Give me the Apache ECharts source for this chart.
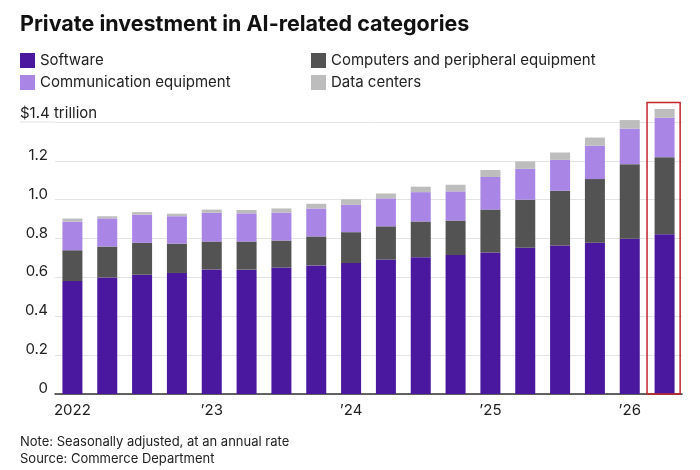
<!DOCTYPE html>
<html lang="en">
<head>
<meta charset="utf-8">
<script src="https://cdn.jsdelivr.net/npm/echarts@6/dist/echarts.min.js"></script>
<style>
    html, body { margin: 0; padding: 0; background: #fff; }
    #chart { width: 700px; height: 470px; }
</style>
</head>
<body>
<div id="chart"></div>
<script>
    // quarters, 2022 Q1 - 2026 Q2
    var quarters = ['2022 Q1', '2022 Q2', '2022 Q3', '2022 Q4',
        '2023 Q1', '2023 Q2', '2023 Q3', '2023 Q4',
        '2024 Q1', '2024 Q2', '2024 Q3', '2024 Q4',
        '2025 Q1', '2025 Q2', '2025 Q3', '2025 Q4',
        '2026 Q1', '2026 Q2'];

    // $ trillion, annual rate
    var software = [0.581, 0.600, 0.614, 0.623, 0.641, 0.640, 0.651, 0.662, 0.674,
        0.692, 0.704, 0.715, 0.728, 0.753, 0.764, 0.778, 0.799, 0.822];
    var computers = [0.159, 0.159, 0.164, 0.151, 0.144, 0.145, 0.139, 0.149, 0.159,
        0.171, 0.184, 0.178, 0.221, 0.247, 0.282, 0.328, 0.384, 0.397];
    var communication = [0.147, 0.145, 0.145, 0.141, 0.148, 0.145, 0.144, 0.144, 0.141,
        0.144, 0.151, 0.150, 0.168, 0.159, 0.159, 0.172, 0.183, 0.203];
    var dataCenters = [0.016, 0.011, 0.013, 0.013, 0.016, 0.017, 0.021, 0.024, 0.028,
        0.025, 0.028, 0.034, 0.036, 0.038, 0.038, 0.042, 0.044, 0.045];

    // x tick labels (first quarter of each year)
    var tickQuarters = ['2022 Q1', '2023 Q1', '2024 Q1', '2025 Q1', '2026 Q1'];
    var tickLabels = ['2022', '\u201923', '\u201924', '\u201925', '\u201926'];

    // y ticks
    var yTicks = [0, 0.2, 0.4, 0.6, 0.8, 1.0, 1.2, 1.4];
    var yTopLabel = '$1.4 trillion';

    // highlighted (latest) quarter and height of its box
    var highlight = [['2026 Q2', 1.5]];

    var FONT = 'Inter';
    var chart = echarts.init(document.getElementById('chart'));

    function isTick(i) {
        return tickQuarters.indexOf(quarters[i]) >= 0;
    }

    function barSeries(name, data, color) {
        return {
            name: name,
            type: 'bar',
            stack: 'total',
            barWidth: 20,
            clip: false,
            itemStyle: { color: color },
            emphasis: { disabled: true },
            data: data
        };
    }

    var option = {
        animation: false,
        textStyle: { fontFamily: FONT },
        title: [
            {
                text: 'Private investment in AI-related categories',
                left: 20, top: 14, padding: 0,
                textStyle: { fontFamily: FONT, fontSize: 21.5, fontWeight: 'bold', color: '#111' }
            },
            {
                text: yTopLabel,
                left: 20, top: 106, padding: 0,
                textStyle: { fontFamily: FONT, fontSize: 15, fontWeight: 'normal', color: '#222' }
            },
            {
                text: 'Note: Seasonally adjusted, at an annual rate\nSource: Commerce Department',
                left: 20, top: 433, padding: 0,
                textStyle: { fontFamily: FONT, fontSize: 13, lineHeight: 17.5, fontWeight: 'normal', color: '#222' }
            }
        ],
        legend: [
            {
                left: 20, top: 53, padding: 0,
                orient: 'vertical', icon: 'rect', selectedMode: false,
                itemWidth: 15, itemHeight: 15, itemGap: 7,
                textStyle: { fontFamily: FONT, fontSize: 15, lineHeight: 15, color: '#222' },
                data: ['Software', 'Communication equipment']
            },
            {
                left: 311, top: 53, padding: 0,
                orient: 'vertical', icon: 'rect', selectedMode: false,
                itemWidth: 15, itemHeight: 15, itemGap: 7,
                textStyle: { fontFamily: FONT, fontSize: 15, lineHeight: 15, color: '#222' },
                data: ['Computers and peripheral equipment', 'Data centers']
            }
        ],
        grid: { left: 55, right: 18, top: 122, bottom: 76 },
        xAxis: {
            type: 'category',
            data: quarters,
            axisLine: { lineStyle: { color: '#333', width: 1.5 } },
            axisTick: {
                alignWithLabel: true, length: 5,
                interval: function (i) { return isTick(i); },
                lineStyle: { color: '#333' }
            },
            axisLabel: {
                interval: function (i) { return isTick(i); },
                formatter: function (v) { return tickLabels[tickQuarters.indexOf(v)]; },
                margin: 9,
                fontFamily: FONT, fontSize: 15, color: '#222'
            }
        },
        yAxis: {
            type: 'value',
            min: 0, max: yTicks[yTicks.length - 1], interval: 0.2,
            axisLine: { show: false },
            axisTick: { show: false },
            splitLine: { lineStyle: { color: '#e3e3e3', width: 1 } },
            axisLabel: {
                margin: 7,
                verticalAlign: 'bottom',
                lineHeight: 11,
                fontFamily: FONT, fontSize: 15, color: '#222',
                formatter: function (v) {
                    if (v === 0) return '0';
                    if (Math.abs(v - 1.4) < 1e-6) return '';
                    return v.toFixed(1);
                }
            }
        },
        series: [
            barSeries('Software', software, '#4a179f'),
            barSeries('Computers and peripheral equipment', computers, '#535353'),
            barSeries('Communication equipment', communication, '#a986e6'),
            barSeries('Data centers', dataCenters, '#bdbdbd'),
            {
                type: 'custom',
                clip: false,
                silent: true,
                z: 5,
                data: highlight,
                renderItem: function (params, api) {
                    var top = api.coord([api.value(0), api.value(1)]);
                    var base = api.coord([api.value(0), 0]);
                    var w = api.size([1, 0])[0] * 0.95;
                    return {
                        type: 'rect',
                        shape: { x: top[0] - w / 2 - 1, y: top[1], width: w, height: base[1] - top[1] },
                        style: { fill: 'none', stroke: '#c3262c', lineWidth: 1.5 }
                    };
                }
            }
        ]
    };

    chart.setOption(option);

    // the top gridline runs out under the "$1.4 trillion" label
    var yTop = chart.convertToPixel({ yAxisIndex: 0 }, yTicks[yTicks.length - 1]);
    chart.setOption({
        graphic: [{
            type: 'line',
            silent: true,
            shape: { x1: 20, y1: yTop, x2: 55, y2: yTop },
            style: { stroke: '#e3e3e3', lineWidth: 1 }
        }]
    });
</script>
</body>
</html>
